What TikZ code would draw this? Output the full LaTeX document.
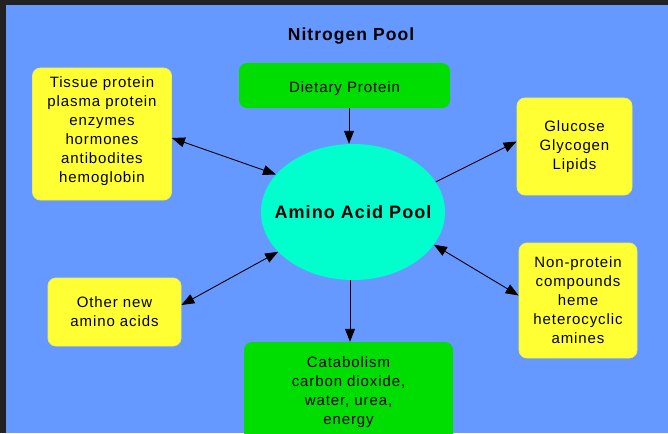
\documentclass[tikz,border=0pt]{standalone}
\usepackage{fontspec}
\setmainfont{Liberation Sans}[LetterSpace=6]
\usetikzlibrary{shapes.geometric,arrows.meta}
\definecolor{framec}{HTML}{222222}
\definecolor{bgc}{HTML}{6699FF}
\definecolor{yel}{HTML}{FFFF33}
\definecolor{yelline}{HTML}{EEEE55}
\definecolor{grn}{HTML}{00DD00}
\definecolor{cyn}{HTML}{00FFCC}
\newcommand{\stacklines}[1]{\begin{tabular}{@{}c@{}}#1\end{tabular}}
\newcommand{\shifttext}[2]{\raisebox{#1}[\height][\depth]{#2}}
\begin{document}
\begin{tikzpicture}[x=1pt,y=-1pt,
  box/.style={rounded corners=8pt, align=center, inner sep=2pt, font=\fontsize{15}{19}\selectfont, text=black},
  ybox/.style={box, fill=yel, draw=yelline, line width=0.8pt},
  gbox/.style={box, fill=grn},
  arr/.style={-{Triangle[length=13pt,width=10pt]}, line width=0.9pt},
  darr/.style={{Triangle[length=13pt,width=10pt]}-{Triangle[length=13pt,width=10pt]}, line width=0.9pt}]
\useasboundingbox (0,0) rectangle (668,433);
\clip (0,0) rectangle (668,433);
\fill[framec] (0,0) rectangle (668,433);
\fill[bgc] (6,5) rectangle (668,433);

\node (title) at (351,36.5) {\fontsize{17.5}{22}\selectfont\bfseries Nitrogen Pool};

\node[ybox, minimum width=139pt, minimum height=132pt] (tissue) at (102,134)
  {\shifttext{3pt}{\stacklines{Tissue protein\\plasma protein\\enzymes\\hormones\\antibodites\\hemoglobin}}};
\node[gbox, minimum width=211pt, minimum height=45pt] (dietary) at (344.5,85.5)
  {\shifttext{-3.5pt}{Dietary Protein}};
\node[ybox, minimum width=115pt, minimum height=97pt] (glucose) at (574.5,146.5)
  {Glucose\\Glycogen\\Lipids};
\node[ybox, minimum width=118pt, minimum height=115pt] (nonprot) at (578,300.5)
  {Non-protein\\compounds\\heme\\heterocyclic\\amines};
\node[ybox, minimum width=133pt, minimum height=68pt] (other) at (114.5,312)
  {Other new\\amino acids};
\node[gbox, minimum width=209pt, minimum height=100pt] (cat) at (348.5,392)
  {Catabolism\\carbon dioxide,\\water, urea,\\energy};
\node[ellipse, fill=cyn, minimum width=184pt, minimum height=136pt, inner sep=0pt,
  font=\fontsize{18}{22}\selectfont\bfseries] (pool) at (353,212) {\makebox[0pt]{Amino Acid Pool}};

\draw[arr] ([xshift=4.5pt]dietary.south) -- ([xshift=4.5pt]dietary.south |- pool.north);
\draw[arr] ([xshift=-3pt]pool.south) -- ([xshift=-3pt]pool.south |- cat.north);
\draw[darr] ([yshift=-4pt]tissue.east) -- (pool.154);
\draw[arr] (pool.20) -- ([yshift=5pt]glucose.west);
\draw[darr] (pool.-22) -- ([yshift=5pt]nonprot.west);
\draw[darr] ([yshift=7pt]other.east) -- (pool.208);
\end{tikzpicture}
\end{document}
